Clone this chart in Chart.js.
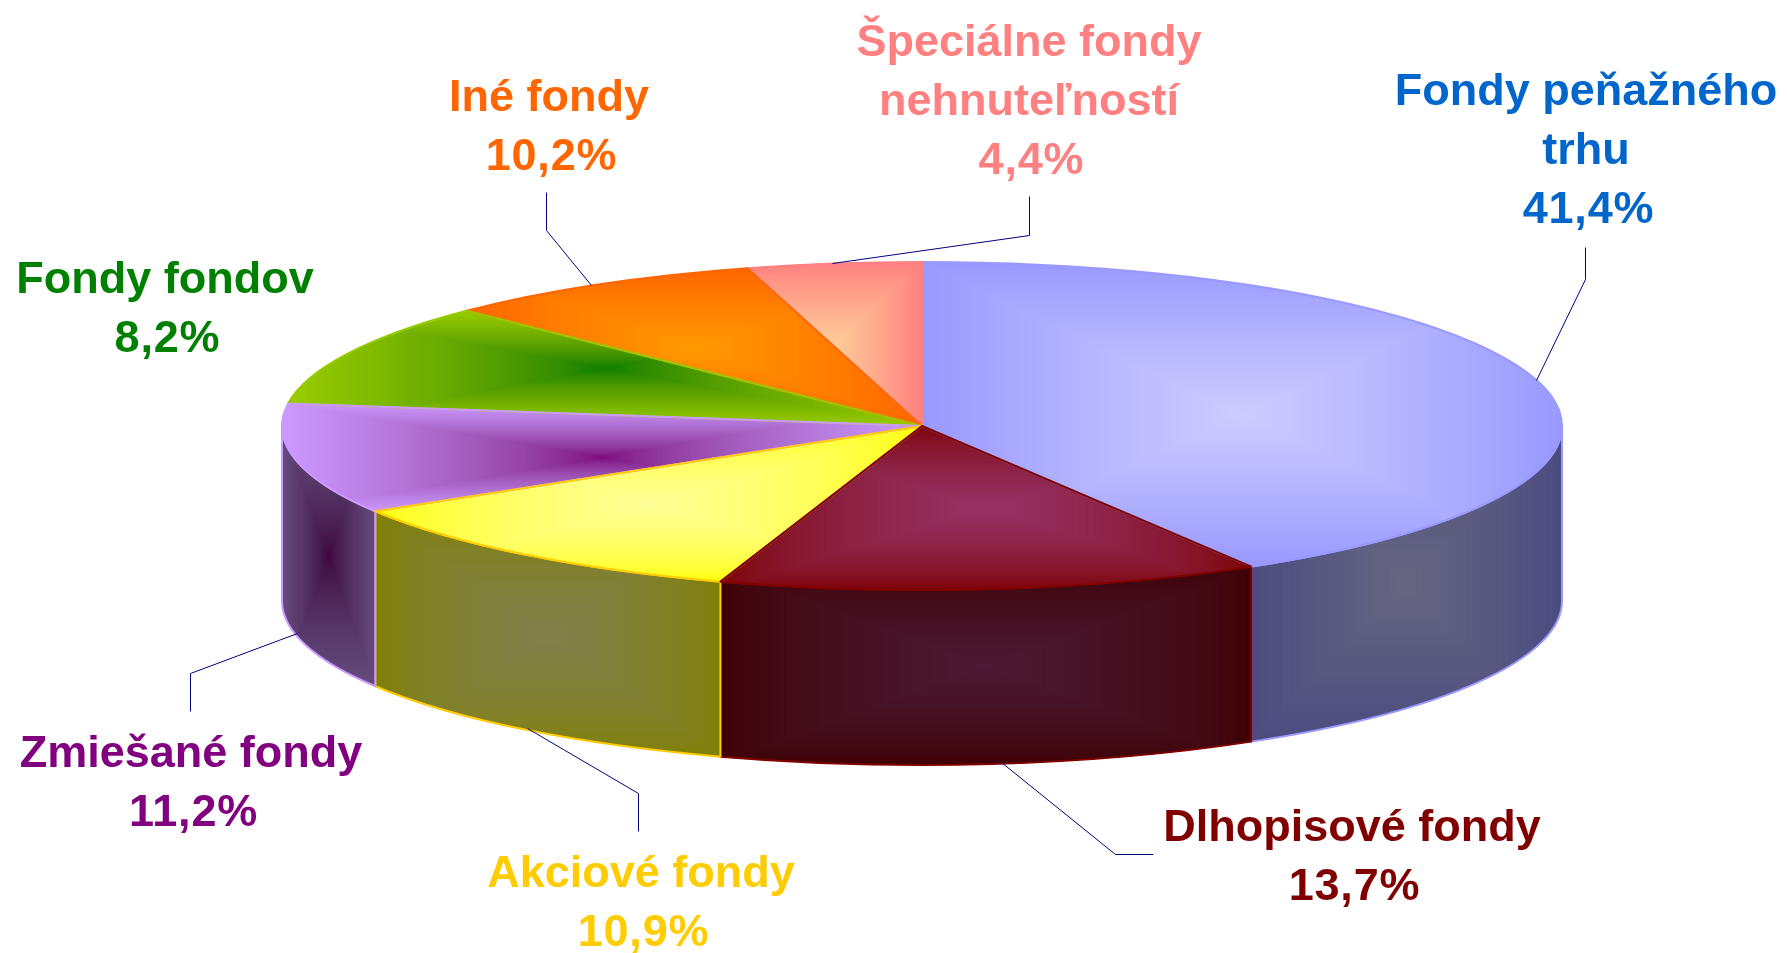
<!DOCTYPE html>
<html lang="sk">
<head>
<meta charset="utf-8">
<title>Fondy</title>
<script src="https://cdn.jsdelivr.net/npm/chart.js@4"></script>
<style>
html,body{margin:0;padding:0;background:#fff}
canvas{display:block}
</style>
</head>
<body>
<canvas id="c" width="1787" height="953"></canvas>
<script>
// ---- data ----
const categories = ['Fondy peňažného trhu','Dlhopisové fondy','Akciové fondy','Zmiešané fondy','Fondy fondov','Iné fondy','Špeciálne fondy nehnuteľností'];
// slice sizes as they are drawn in the picture (they differ slightly from the printed labels in two pairs)
const sliceValues = [41.4,13.7,11.2,10.9,10.2,8.2,4.4];
// percentages as they are printed on the picture
const percentLabels = ['41,4%','13,7%','10,9%','11,2%','8,2%','10,2%','4,4%'];
const labelLines = [['Fondy peňažného','trhu'],['Dlhopisové fondy'],['Akciové fondy'],['Zmiešané fondy'],['Fondy fondov'],['Iné fondy'],['Špeciálne fondy','nehnuteľností']];
// ---- colours ----
const labelColors   = ['#0066CC','#800000','#FFCC00','#800080','#008000','#FF6600','#FF8080'];
const edgeColors    = ['#9999FF','#800000','#FFFF00','#CC99FF','#99CC00','#FF6600','#FF8080'];
const centerColors  = ['#CCCCFF','#993366','#FFFF99','#800080','#008000','#FF9900','#FFCC99'];
const borderColors  = ['#9999FF','#800000','#FFCC00','#CC99FF','#99CC00','#FF6600','#FF8080'];
const wallEdge      = ['#4C4C80','#400000','#808000','#664C80','#4C6600','#803300','#804040'];
const wallCenter    = ['#666680','#4C1A33','#80804C','#400040','#004000','#804C00','#80664C'];
const strokeOrder   = [0,6,5,4,3,2,1];
// ---- layout ----
const view = {cx:922, cy:426, rx:640, ry:164, depth:175};
const font = 'bold 45px "Liberation Sans", Arial, sans-serif';
const lineGap = 59;
const labelAnchors = [[1586,105],[1352,841],[641,887],[191,767],[165,293],[549,111],[1029,56]];
const leaderLines = [
  [[1585,247],[1585,279],[1536,380]],
  [[1001,762],[1115,854],[1153,854]],
  [[527,728],[638,793],[638,831]],
  [[190,711],[190,673],[297,633]],
  [],
  [[546,192],[546,230],[591,285]],
  [[1029,196],[1029,235],[832,263]]
];

function rgb(h){return [1,3,5].map(i=>parseInt(h.substr(i,2),16));}
// gradients blend with a gamma, as the original renderer did
function mix(a,b,t){
  const A=rgb(a),B=rgb(b),g=1.7;
  return 'rgb('+A.map((v,i)=>Math.round(255*Math.pow(Math.pow(v/255,g)*(1-t)+Math.pow(B[i]/255,g)*t,1/g))).join(',')+')';
}
function rectGradient(ctx,box,edge,center){
  const x=(box.x0+box.x1)/2,y=(box.y0+box.y1)/2,hw=(box.x1-box.x0)/2,hh=(box.y1-box.y0)/2;
  const N=128;
  ctx.fillStyle=edge;
  ctx.fillRect(box.x0-3,box.y0-3,hw*2+6,hh*2+6);
  for(let i=N;i>=0;i--){
    const t=i/N;
    ctx.fillStyle=mix(center,edge,t);
    ctx.fillRect(x-hw*t,y-hh*t,hw*2*t,hh*2*t);
  }
}
function ex(t){return view.cx+view.rx*Math.cos(t);}
function ey(t){return view.cy+view.ry*Math.sin(t);}
function topPath(ctx,a0,a1){
  ctx.beginPath();
  ctx.moveTo(view.cx,view.cy);
  ctx.ellipse(view.cx,view.cy,view.rx,view.ry,0,a0,a1);
  ctx.closePath();
}
function arcBox(a0,a1,extra){
  const b={x0:1e9,x1:-1e9,y0:1e9,y1:-1e9};
  const add=(x,y)=>{b.x0=Math.min(b.x0,x);b.x1=Math.max(b.x1,x);b.y0=Math.min(b.y0,y);b.y1=Math.max(b.y1,y);};
  for(let i=0;i<=200;i++){const t=a0+(a1-a0)*i/200;add(ex(t),ey(t));if(extra==='wall')add(ex(t),ey(t)+view.depth);}
  if(extra==='apex')add(view.cx,view.cy);
  return b;
}
const pie3d={
  id:'pie3d',
  beforeDatasetsDraw(chart){
    const ctx=chart.ctx,arcs=chart.getDatasetMeta(0).data;
    arcs.forEach((arc,i)=>{
      const a0=Math.max(arc.startAngle,0),a1=Math.min(arc.endAngle,Math.PI);
      if(a1<=a0)return;
      ctx.save();
      const path=()=>{
        ctx.beginPath();
        ctx.ellipse(view.cx,view.cy,view.rx,view.ry,0,a0,a1);
        ctx.ellipse(view.cx,view.cy+view.depth,view.rx,view.ry,0,a1,a0,true);
        ctx.closePath();
      };
      path();ctx.save();ctx.clip();
      rectGradient(ctx,arcBox(a0,a1,'wall'),wallEdge[i],wallCenter[i]);
      ctx.restore();
      path();ctx.strokeStyle=borderColors[i];ctx.lineWidth=2;ctx.lineJoin='round';ctx.stroke();
      ctx.restore();
    });
    const a=arcs[0],s=view.ry/a.outerRadius,sx=view.rx/a.outerRadius;
    ctx.save();
    ctx.translate(view.cx,view.cy);ctx.scale(sx,s);ctx.translate(-a.x,-a.y);
  },
  afterDatasetsDraw(chart){
    const ctx=chart.ctx,arcs=chart.getDatasetMeta(0).data;
    ctx.restore();
    arcs.forEach((arc,i)=>{
      ctx.save();
      topPath(ctx,arc.startAngle,arc.endAngle);ctx.clip();
      rectGradient(ctx,arcBox(arc.startAngle,arc.endAngle,'apex'),edgeColors[i],centerColors[i]);
      ctx.restore();
    });
    strokeOrder.forEach(i=>{
      const arc=arcs[i];
      ctx.save();
      topPath(ctx,arc.startAngle,arc.endAngle);
      ctx.strokeStyle=borderColors[i];ctx.lineWidth=2;ctx.lineJoin='round';ctx.stroke();
      ctx.restore();
    });
    ctx.save();
    ctx.strokeStyle='#000080';ctx.lineWidth=1;
    leaderLines.forEach(pts=>{
      if(!pts.length)return;
      ctx.beginPath();
      pts.forEach((p,k)=>k?ctx.lineTo(p[0]+.5,p[1]+.5):ctx.moveTo(p[0]+.5,p[1]+.5));
      ctx.stroke();
    });
    ctx.font=font;ctx.textAlign='center';ctx.textBaseline='alphabetic';
    labelLines.forEach((lines,i)=>{
      ctx.fillStyle=labelColors[i];
      const [x,y]=labelAnchors[i];
      lines.forEach((t,k)=>ctx.fillText(t,x,y+k*lineGap));
      ctx.letterSpacing='0.8px';
      ctx.fillText(percentLabels[i],x+2.5,y+lines.length*lineGap);
      ctx.letterSpacing='0px';
    });
    ctx.restore();
  }
};
new Chart(document.getElementById('c'),{
  type:'pie',
  data:{labels:categories,datasets:[{data:sliceValues,backgroundColor:edgeColors,borderWidth:0,clip:false}]},
  options:{
    responsive:false,animation:false,devicePixelRatio:1,
    plugins:{legend:{display:false},tooltip:{enabled:false},title:{display:false}}
  },
  plugins:[pie3d]
});
</script>
</body>
</html>
